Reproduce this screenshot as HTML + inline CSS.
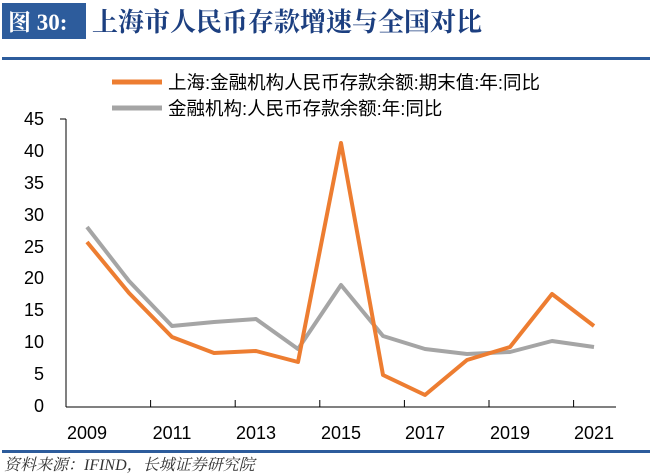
<!DOCTYPE html>
<html><head><meta charset="utf-8"><style>
body{margin:0;width:657px;height:476px;background:#fff;overflow:hidden;position:relative}
</style></head><body>
<svg width="657" height="476" style="position:absolute;left:0;top:0" font-family="Liberation Sans, Noto Sans CJK SC, sans-serif">
<rect x="2" y="3" width="84" height="36" fill="#2d5c9c"/>
<text x="8" y="30" font-family="Liberation Serif, Noto Serif CJK SC, serif" font-size="23" font-weight="bold" fill="#fff">图 30:</text>
<text x="92" y="31" font-family="Liberation Serif, Noto Serif CJK SC, serif" font-size="26" font-weight="bold" fill="#1c3f80">上海市人民币存款增速与全国对比</text>
<rect x="2" y="57" width="648" height="3" fill="#2d5c9c"/>
<line x1="112" y1="82" x2="162" y2="82" stroke="#ed7d31" stroke-width="5"/>
<text x="168" y="89" font-size="18.5" fill="#000">上海:金融机构人民币存款余额:期末值:年:同比</text>
<line x1="112" y1="108" x2="162" y2="108" stroke="#a5a5a5" stroke-width="5"/>
<text x="168" y="115" font-size="18.5" fill="#000">金融机构:人民币存款余额:年:同比</text>
<g font-size="18" fill="#000" text-anchor="end">
<text x="44" y="412">0</text><text x="44" y="380">5</text><text x="44" y="348">10</text><text x="44" y="316">15</text><text x="44" y="284">20</text><text x="44" y="253">25</text><text x="44" y="221">30</text><text x="44" y="189">35</text><text x="44" y="157">40</text><text x="44" y="125">45</text>
</g>
<g stroke="#000" stroke-width="1">
<line x1="66" y1="119" x2="66" y2="407"/>
<line x1="60" y1="119" x2="66" y2="119"/>
<line x1="66" y1="407" x2="616" y2="407"/>
<line x1="150.6" y1="400" x2="150.6" y2="407"/><line x1="235.2" y1="400" x2="235.2" y2="407"/><line x1="319.8" y1="400" x2="319.8" y2="407"/><line x1="404.4" y1="400" x2="404.4" y2="407"/><line x1="489" y1="400" x2="489" y2="407"/><line x1="573.6" y1="400" x2="573.6" y2="407"/>
</g>
<g font-size="18" fill="#000" text-anchor="middle">
<text x="87" y="439">2009</text><text x="172" y="439">2011</text><text x="256" y="439">2013</text><text x="341" y="439">2015</text><text x="425" y="439">2017</text><text x="510" y="439">2019</text><text x="594" y="439">2021</text>
</g>
<polyline fill="none" stroke="#a5a5a5" stroke-width="4" stroke-linejoin="round" points="87,227 129,281 172,326 214,322 256,319 298,349 341,285 383,336 425,349 467,354 510,352 552,341 594,347"/>
<polyline fill="none" stroke="#ed7d31" stroke-width="4" stroke-linejoin="round" points="87,242 129,293 172,337 214,353 256,351 298,362 341,143 383,375 425,395 467,360 510,347 552,294 594,326"/>
<rect x="2" y="450" width="648" height="3" fill="#2d5c9c"/>
<text x="4" y="470" font-family="Liberation Serif, Noto Serif CJK SC, serif" font-size="16" font-style="italic" fill="#333">资料来源：IFIND，长城证券研究院</text>
</svg>
</body></html>
